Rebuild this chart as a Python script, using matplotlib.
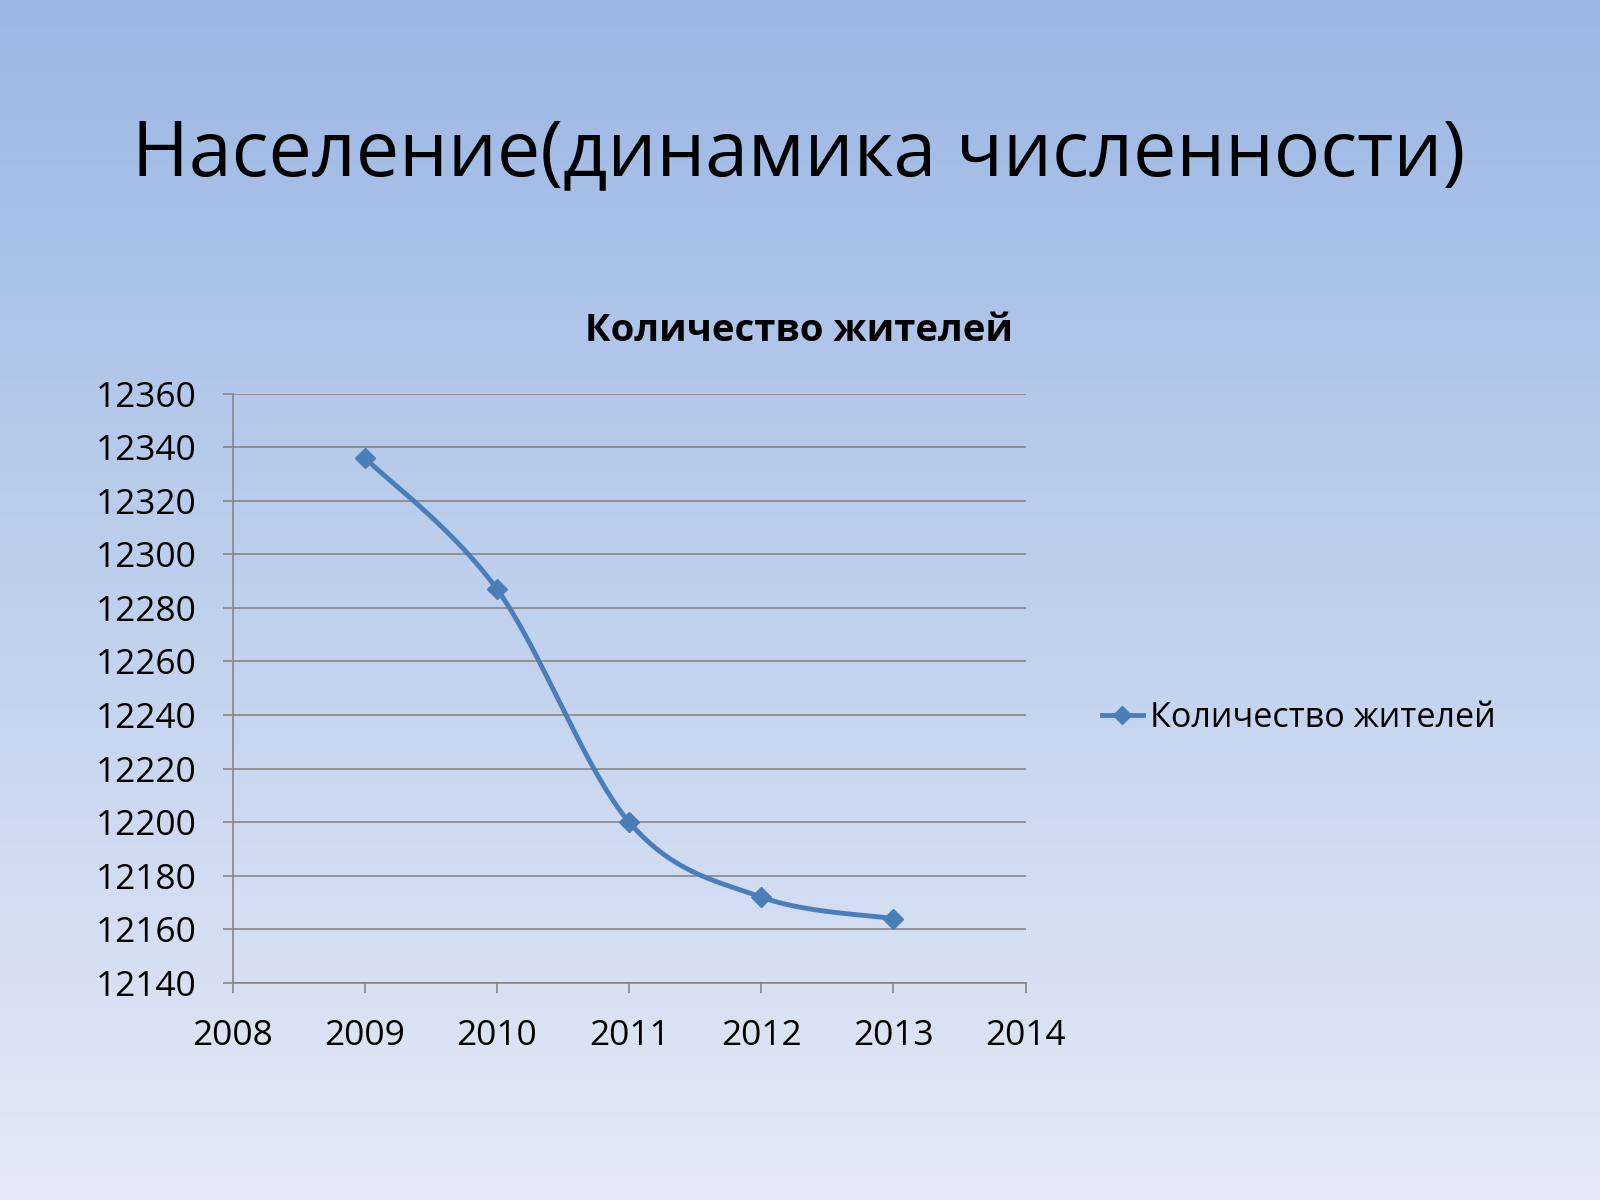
import numpy as np
import matplotlib
matplotlib.use("Agg")
import matplotlib.pyplot as plt
from matplotlib.lines import Line2D

plt.rcParams['font.family'] = ['Open Sans', 'DejaVu Sans']

# Data
years = [2009, 2010, 2011, 2012, 2013]
population = [12336, 12287, 12200, 12172, 12164]
y_ticks = list(range(12140, 12361, 20))
x_ticks = list(range(2008, 2015))
slide_title = "Население(динамика численности)"
chart_title = "Количество жителей"
series_name = "Количество жителей"

LINE = "#4A7EBB"
GRID = "#868686"

fig = plt.figure(figsize=(16, 12), dpi=100)

# gradient background
bg = fig.add_axes([0, 0, 1, 1], zorder=-10)
grad = np.linspace(0, 1, 256).reshape(-1, 1)
top = np.array([155, 183, 228]) / 255
bot = np.array([228, 234, 246]) / 255
img = top[None, None, :] * (1 - grad[:, :, None]) + bot[None, None, :] * grad[:, :, None]
bg.imshow(img, aspect='auto', extent=[0, 1, 0, 1], origin='upper')
bg.set_axis_off()

fig.text(0.4994, 0.8705, slide_title, ha='center', va='center', fontsize=55.5, color='black')

ax = fig.add_axes([0.1454, 0.181, 0.641 - 0.1454, 0.672 - 0.181])
ax.set_facecolor('none')

# smooth (Bezier like Excel smoothing)
def smooth(xs, ys, n=40):
    p = np.column_stack([xs, ys]).astype(float)
    pts = np.vstack([p[0], p, p[-1]])
    out = []
    for i in range(1, len(pts) - 2):
        p0, p1, p2, p3 = pts[i - 1], pts[i], pts[i + 1], pts[i + 2]
        c1 = p1 + (p2 - p0) / 6
        c2 = p2 - (p3 - p1) / 6
        t = np.linspace(0, 1, n)[:, None]
        seg = (1 - t) ** 3 * p1 + 3 * (1 - t) ** 2 * t * c1 + 3 * (1 - t) * t ** 2 * c2 + t ** 3 * p2
        out.append(seg if i == 1 else seg[1:])
    s = np.vstack(out)
    return s[:, 0], s[:, 1]

sx, sy = smooth(years, population)
ax.plot(sx, sy, color=LINE, lw=3.5, solid_capstyle='round', zorder=3)
ax.plot(years, population, linestyle='none', marker='D', ms=10, color=LINE, zorder=4)

ax.set_xlim(2008, 2014)
ax.set_ylim(12140, 12360)
ax.set_xticks(x_ticks)
ax.set_yticks(y_ticks)
ax.set_xticklabels([str(v) for v in x_ticks])
ax.set_yticklabels([str(v) for v in y_ticks])
ax.grid(axis='y', color=GRID, lw=1.2)
ax.set_axisbelow(True)
for s in ['top', 'right']:
    ax.spines[s].set_visible(False)
for s in ['left', 'bottom']:
    ax.spines[s].set_color(GRID)
    ax.spines[s].set_linewidth(1.2)
ax.tick_params(axis='both', colors=GRID, width=1.2, length=7, labelsize=25.5, labelcolor='black')
ax.tick_params(axis='y', pad=19)
ax.tick_params(axis='x', pad=19)

fig.text(0.4994, 0.7245, chart_title, ha='center', va='center', fontsize=27.5, fontweight='bold')

handle = Line2D([], [], color=LINE, lw=3.5, marker='D', ms=9)
fig.legend([handle], [series_name], loc='center left', bbox_to_anchor=(0.680, 0.4015),
           frameon=False, fontsize=24.6, handlelength=1.2, handletextpad=0.2, borderaxespad=0)

fig.savefig("out.png", dpi=100)
